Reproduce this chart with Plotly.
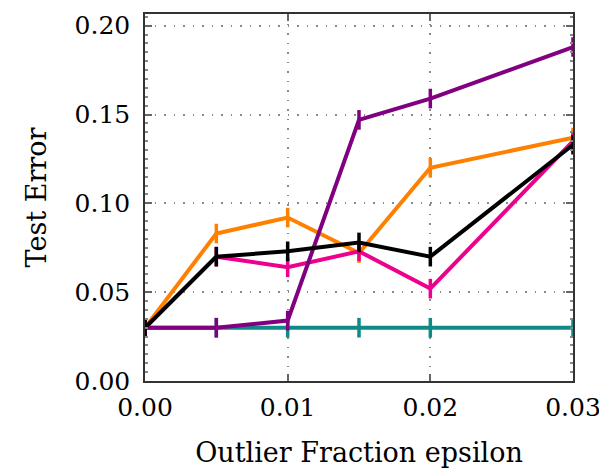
import plotly.graph_objects as go

x = [0.0, 0.005, 0.01, 0.015, 0.02, 0.03]
teal = [0.030, 0.030, 0.030, 0.030, 0.030, 0.030]
orange = [0.030, 0.083, 0.092, 0.072, 0.120, 0.137]
pink = [0.030, 0.070, 0.064, 0.073, 0.052, 0.135]
purple = [0.030, 0.030, 0.034, 0.147, 0.159, 0.188]
black = [0.030, 0.070, 0.073, 0.078, 0.070, 0.133]

series = [
    ("teal", teal, "#0f8a87"),
    ("orange", orange, "#ff8000"),
    ("pink", pink, "#ec008c"),
    ("purple", purple, "#800080"),
    ("black", black, "#000000"),
]

fig = go.Figure()
for name, ys, col in series:
    fig.add_trace(go.Scatter(
        x=x, y=ys, mode="lines+markers", name=name,
        line=dict(color=col, width=4),
        marker=dict(symbol="line-ns", size=14, line=dict(color=col, width=3.5)),
        showlegend=False,
    ))

font = "DejaVu Serif"
# page body has an 8px default margin, so the figure is shrunk by 8px
fig.update_layout(
    width=599, height=460,
    margin=dict(l=137, r=34, t=4, b=87),
    plot_bgcolor="white", paper_bgcolor="white",
    font=dict(family=font, color="black"),
)
common = dict(
    tickfont=dict(size=25, family=font),
    showgrid=True, gridcolor="#8a8a8a", griddash="1.5px,8px", gridwidth=1.5,
    showline=True, linecolor="#333", linewidth=1.5, mirror="ticks",
    ticks="inside", ticklen=7, tickcolor="#666", tickwidth=1.5,
    zeroline=False,
)
fig.update_xaxes(
    range=[0, 0.03], tickvals=[0, 0.01, 0.02, 0.03],
    ticktext=["0.00", "0.01", "0.02", "0.03"],
    ticklabelstandoff=3,
    title=dict(text="Outlier Fraction epsilon", font=dict(size=27, family=font), standoff=22),
    **common,
)
fig.update_yaxes(
    range=[0, 0.2066], tickvals=[0, 0.05, 0.1, 0.15, 0.2],
    ticktext=["0.00", "0.05", "0.10", "0.15", "0.20"],
    ticklabelstandoff=8,
    minor=dict(ticks="inside", ticklen=3, dtick=0.005, tickcolor="#888", showgrid=False),
    title=dict(text="Test Error", font=dict(size=27, family=font), standoff=20),
    **common,
)
fig.write_html("out.html")
